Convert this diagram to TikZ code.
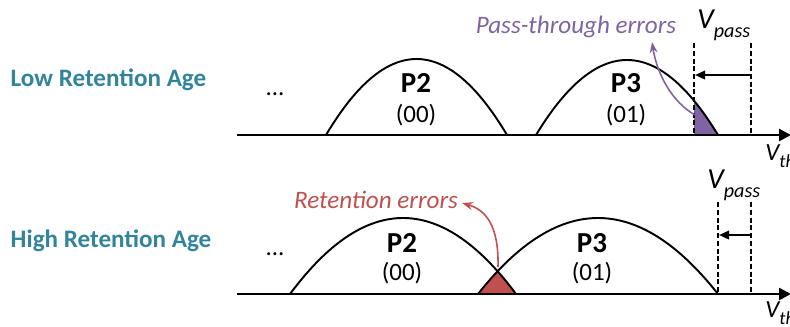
\documentclass[tikz,border=0pt]{standalone}
\usepackage{fontspec}
\setmainfont{Carlito}
\usetikzlibrary{arrows.meta,positioning}

\definecolor{agecol}{HTML}{31849B}
\definecolor{passcol}{HTML}{8064A2}
\definecolor{retcol}{HTML}{C0504D}

\begin{document}
\begin{tikzpicture}[
  x=0.02cm, y=-0.02cm,
  every node/.style={inner sep=0pt},
  agelbl/.style ={font=\bfseries\fontsize{14.3}{16}\selectfont, text=agecol},
  pname/.style  ={font=\bfseries\fontsize{16.5}{18}\selectfont},
  pbits/.style  ={font=\fontsize{14.2}{16}\selectfont},
  errlbl/.style ={font=\itshape\fontsize{14.3}{16}\selectfont},
  vlbl/.style   ={font=\itshape\fontsize{16.5}{18}\selectfont, anchor=base west},
  curve/.style  ={line width=1.1pt},
  axis/.style   ={line width=1.4pt, -{Triangle[length=0.24cm,width=0.24cm]}},
  vline/.style  ={line width=0.8pt, dash pattern=on 0.1cm off 0.055cm},
  shft/.style   ={line width=1.1pt, -{Triangle[length=0.2cm,width=0.17cm]}},
  errarr/.style ={line width=0.9pt, -{Stealth[length=0.22cm,width=0.16cm]}},
  declare function={
    ptwoA(\x)=135-76*(1-((\x-416.5)/90.5)^2);
    pthrA(\x)=135-75*(1-((\x-627)/91)^2);
    ptwoB(\x)=294-76*(1-((\x-403)/113)^2);
    pthrB(\x)=294-76*(1-((\x-598)/120)^2);
  }
]
\useasboundingbox (0,0) rectangle (790,326);

% ---- low retention age
\node[agelbl] (lowage) at (108.5,80) {Low Retention Age};
\node[pbits, anchor=base] (dotsA) at (275,95) {...};

\fill[passcol] (694,135) -- plot[domain=694:718, samples=20] (\x,{pthrA(\x)}) -- cycle;
\draw[curve] plot[domain=326:507, samples=60] (\x,{ptwoA(\x)});
\draw[curve] plot[domain=536:718, samples=60] (\x,{pthrA(\x)});

\node[pname] (ptwoA) at (416,83) {P2};
\node[pbits] (bitsA) at (416,115) {(00)};
\node[pname] (pthrA) at (626,83) {P3};
\node[pbits] (bitsB) at (626,115) {(01)};

\coordinate (axAl) at (237,135);
\coordinate (axAr) at (791,135);
\draw[axis] (axAl) -- (axAr);

\coordinate (vAl) at (694,43);  \coordinate (vAlb) at (694,135);
\coordinate (vAr) at (751,43);  \coordinate (vArb) at (751,135);
\draw[vline] (vAl) -- (vAlb);
\draw[vline] (vAr) -- (vArb);
\coordinate (sAr) at (751,75);
\coordinate (sAl) at (695,75);
\draw[shft] (sAr) -- (sAl);

\node[vlbl] (vpassA) at (697,28) {V\raisebox{-0.18cm}{\fontsize{11.5}{12}\selectfont pass}};
\node[vlbl, font=\itshape\fontsize{14}{16}\selectfont] (vthA) at (765,160)
     {V\raisebox{-0.15cm}{\fontsize{10.5}{12}\selectfont th}};

\node[errlbl, text=passcol] (passerr) at (576,27) {Pass-through errors};
\coordinate (pstart) at (695,115);
\coordinate (ptip) at (652,42);
\draw[errarr, passcol] (pstart) .. controls (672,102) and (657,74) .. (ptip);

% ---- high retention age
\node[agelbl] (highage) at (111,241) {High Retention Age};
\node[pbits, anchor=base] (dotsB) at (275,255) {...};

\fill[retcol] (478,294) -- plot[domain=478:497.6, samples=20] (\x,{pthrB(\x)})
  -- plot[domain=497.6:516, samples=20] (\x,{ptwoB(\x)}) -- cycle;
\draw[curve] plot[domain=290:516, samples=60] (\x,{ptwoB(\x)});
\draw[curve] plot[domain=478:718, samples=60] (\x,{pthrB(\x)});

\node[pname] (ptwoB) at (402,243) {P2};
\node[pbits] (bitsC) at (402,273) {(00)};
\node[pname] (pthrB) at (592,243) {P3};
\node[pbits] (bitsD) at (592,273) {(01)};

\coordinate (axBl) at (237,294);
\coordinate (axBr) at (791,294);
\draw[axis] (axBl) -- (axBr);

\coordinate (vBl) at (718,202);  \coordinate (vBlb) at (718,294);
\coordinate (vBr) at (751,202);  \coordinate (vBrb) at (751,294);
\draw[vline] (vBl) -- (vBlb);
\draw[vline] (vBr) -- (vBrb);
\coordinate (sBr) at (751,235);
\coordinate (sBl) at (719,235);
\draw[shft] (sBr) -- (sBl);

\node[vlbl] (vpassB) at (707,188) {V\raisebox{-0.18cm}{\fontsize{11.5}{12}\selectfont pass}};
\node[vlbl, font=\itshape\fontsize{14}{16}\selectfont] (vthB) at (765,317)
     {V\raisebox{-0.15cm}{\fontsize{10.5}{12}\selectfont th}};

\node[errlbl, text=retcol] (reterr) at (376,200) {Retention errors};
\coordinate (rstart) at (498,267);
\coordinate (rtip) at (462,203);
\draw[errarr, retcol] (rstart) .. controls (499,226) and (486,210) .. (rtip);
\end{tikzpicture}
\end{document}
